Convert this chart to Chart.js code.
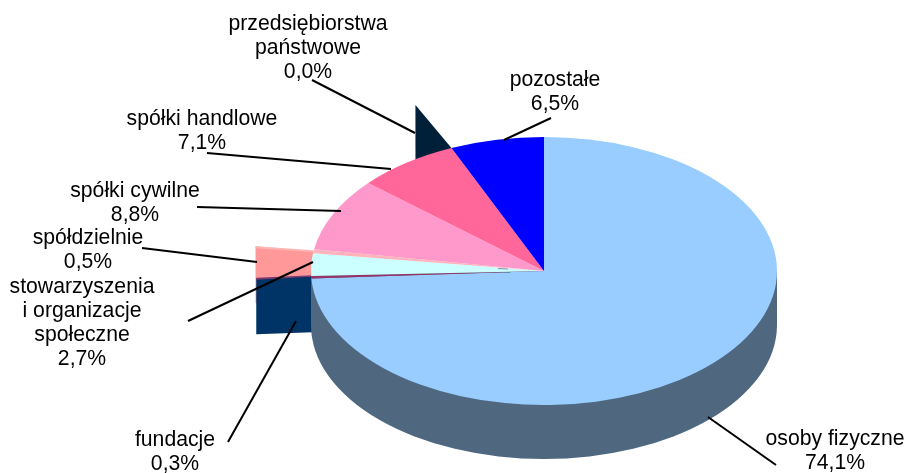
<!DOCTYPE html>
<html>
<head>
<meta charset="utf-8">
<style>html,body{margin:0;padding:0;background:#fff}canvas{display:block}</style>
<script src="https://cdn.jsdelivr.net/npm/chart.js@4"></script>
</head>
<body>
<canvas id="c" width="906" height="473"></canvas>
<script>
// ---- data ----
const categories = [
  ['osoby fizyczne'],
  ['fundacje'],
  ['stowarzyszenia', 'i organizacje', 'społeczne'],
  ['spółdzielnie'],
  ['spółki cywilne'],
  ['spółki handlowe'],
  ['przedsiębiorstwa', 'państwowe'],
  ['pozostałe']
];
const shares = [74.1, 0.3, 2.7, 0.5, 8.8, 7.1, 0.0, 6.5];
const sliceColors = ['#99CCFF', '#993366', '#CCFFFF', '#FFB4BC', '#FF99CC', '#FF6699', '#001F38', '#0000FF'];

// ---- layout (pixels), kept apart from the data ----
const pieCenterY = 271, pieRadiusY = 134, pieDepth = 54;
const labelCenters = [[835, 445], [175, 446], [82, 293], [88, 244], [135, 197], [202, 125], [308, 30], [555, 86]];
const leaderLines = [
  [708, 417, 776, 465], [228, 442, 296, 321], [188, 321, 313, 262], [142, 248, 257, 262],
  [197, 207, 341, 211], [207, 153, 391, 169], [312, 80, 415, 133], [504, 140, 551, 118]
];
const lineHeight = 24;

function edgePoint(chart, i, useEnd) {
  const a = chart.getDatasetMeta(0).data[i];
  const ang = useEnd === undefined ? (a.startAngle + a.endAngle) / 2 : a.endAngle;
  const k = pieRadiusY / a.outerRadius;
  return { x: a.x + a.outerRadius * Math.cos(ang), y: pieCenterY + a.outerRadius * k * Math.sin(ang) };
}
function poly(ctx, color, pts) {
  ctx.fillStyle = color;
  ctx.beginPath();
  pts.forEach((p, i) => i ? ctx.lineTo(p[0], p[1]) : ctx.moveTo(p[0], p[1]));
  ctx.closePath();
  ctx.fill();
}

const pie3d = {
  id: 'pie3d',
  beforeDatasetsDraw(chart) {
    const ctx = chart.ctx;
    const a = chart.getDatasetMeta(0).data[0];
    const rx = a.outerRadius;
    // extruded walls of the small slices, hung on their own slice's rim
    const d = edgePoint(chart, 6);
    poly(ctx, '#001F38', [[d.x - 36, d.y - 43], [d.x, d.y], [d.x, d.y + 14], [d.x - 36, d.y + 14]]);
    const s = edgePoint(chart, 3);
    poly(ctx, '#FF9999', [[s.x - 58, s.y - 5], [s.x, s.y], [s.x, s.y + 52], [s.x - 58, s.y + 52]]);
    poly(ctx, '#FFB4B4', [[s.x - 58, s.y - 5], [s.x, s.y - 1], [s.x, s.y + 1], [s.x - 58, s.y - 3]]);
    const f = edgePoint(chart, 1);
    poly(ctx, '#003366', [[f.x - 55, f.y + 1.5], [f.x + 1, f.y - 1], [f.x + 1, f.y + 55], [f.x - 55, f.y + 57]]);
    poly(ctx, '#7A3A6E', [[f.x - 55, f.y + 0.5], [f.x + 1, f.y - 2], [f.x + 1, f.y - 0.5], [f.x - 55, f.y + 2.5]]);
    // outer wall of the biggest slice
    ctx.fillStyle = '#4F6880';
    ctx.beginPath();
    ctx.moveTo(a.x + rx, pieCenterY);
    ctx.lineTo(a.x + rx, pieCenterY + pieDepth);
    ctx.ellipse(a.x, pieCenterY + pieDepth, rx, pieRadiusY, 0, 0, Math.PI);
    ctx.lineTo(a.x - rx, pieCenterY);
    ctx.closePath();
    ctx.fill();
    // squash the library's circle into the tilted disc
    ctx.save();
    ctx.translate(a.x, pieCenterY);
    ctx.scale(1, pieRadiusY / rx);
    ctx.translate(-a.x, -a.y);
  },
  afterDatasetsDraw(chart) {
    const ctx = chart.ctx;
    ctx.restore();
    const a = chart.getDatasetMeta(0).data[0];
    // tiny wall remnants near the hub
    ctx.lineWidth = 1;
    ctx.strokeStyle = '#8A8FB0';
    ctx.beginPath(); ctx.moveTo(a.x - 46, pieCenterY - 2.5); ctx.lineTo(a.x - 36, pieCenterY - 2); ctx.stroke();
    ctx.strokeStyle = '#5A90A8';
    ctx.beginPath(); ctx.moveTo(a.x - 41, pieCenterY + 1.5); ctx.lineTo(a.x - 34, pieCenterY + 1.5); ctx.stroke();
    // leader lines
    ctx.strokeStyle = '#000';
    ctx.lineWidth = 2;
    leaderLines.forEach(l => {
      ctx.beginPath(); ctx.moveTo(l[0], l[1]); ctx.lineTo(l[2], l[3]); ctx.stroke();
    });
    // labels
    ctx.fillStyle = '#000';
    ctx.font = '21.2px "Liberation Sans", Arial, sans-serif';
    ctx.textAlign = 'center';
    ctx.textBaseline = 'alphabetic';
    categories.forEach((lines, i) => {
      const text = lines.concat(shares[i].toFixed(1).replace('.', ',') + '%');
      text.forEach((t, j) => ctx.fillText(t, labelCenters[i][0], labelCenters[i][1] + j * lineHeight));
    });
  }
};

new Chart(document.getElementById('c'), {
  type: 'pie',
  data: {
    labels: categories.map(c => c.join(' ')),
    datasets: [{ data: shares, backgroundColor: sliceColors, borderWidth: 0, clip: false }]
  },
  options: {
    responsive: false,
    animation: false,
    devicePixelRatio: 1,
    layout: { padding: { left: 311, right: 129, top: 0, bottom: 7 } },
    plugins: { legend: { display: false }, tooltip: { enabled: false } }
  },
  plugins: [pie3d]
});
</script>
</body>
</html>
